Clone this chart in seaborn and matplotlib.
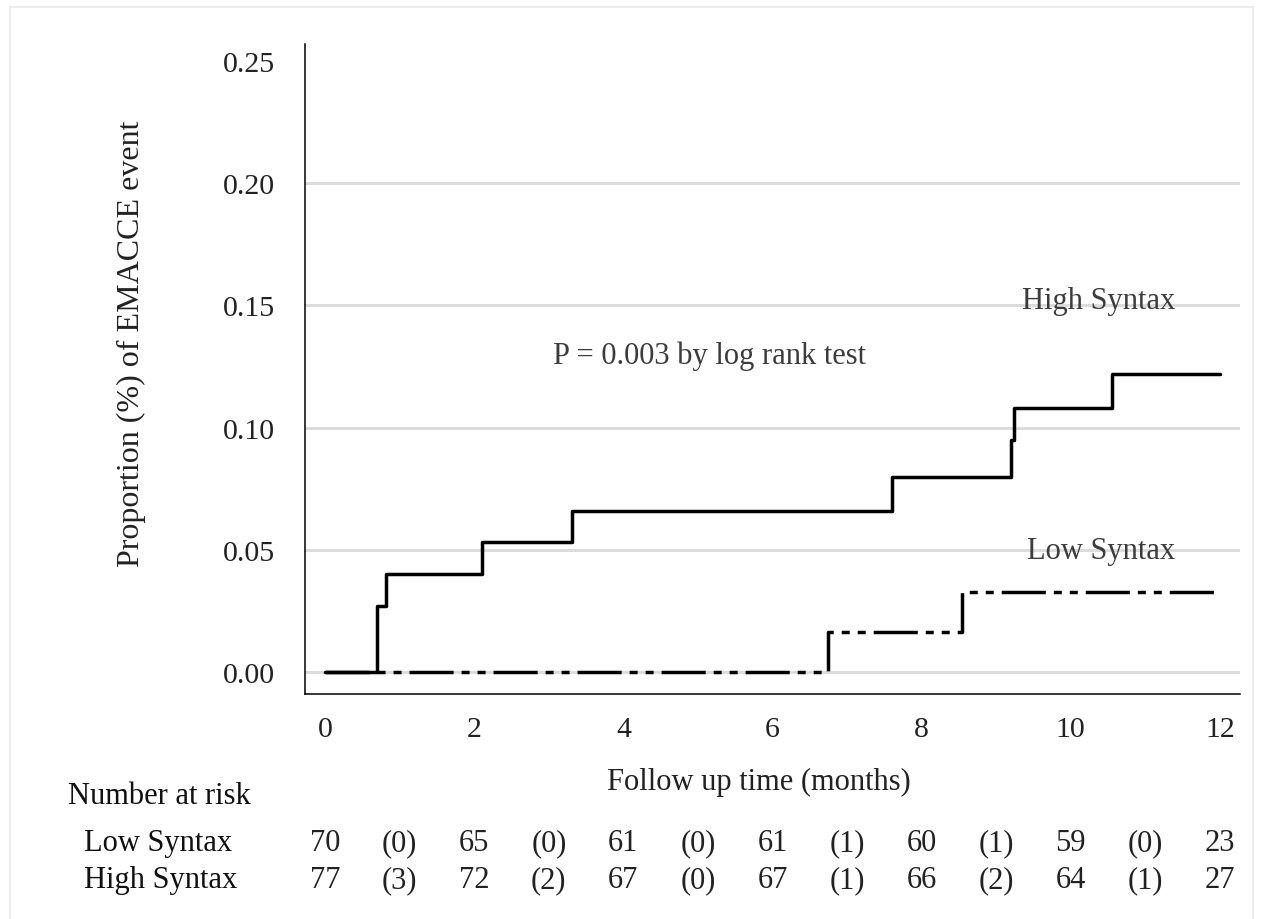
"""
Courbe de Kaplan-Meier (incidence cumulée) des événements EMACCE selon le score Syntax.
"""

import pandas as pd
import matplotlib
matplotlib.use("Agg")
import matplotlib.pyplot as plt
import matplotlib.transforms as mtransforms
from matplotlib.patches import Rectangle
import seaborn as sns

# Données
high_time = [0, 0.70, 0.82, 2.10, 3.31, 7.60, 9.20, 9.24, 10.55, 12.0]
high_prop = [0, 0.027, 0.040, 0.053, 0.066, 0.080, 0.095, 0.108, 0.122, 0.122]
low_time = [0, 6.75, 8.54, 12.0]
low_prop = [0, 0.0164, 0.0328, 0.0328]

groups = ["High Syntax", "Low Syntax"]
y_ticks = [0.00, 0.05, 0.10, 0.15, 0.20, 0.25]
x_ticks = [0, 2, 4, 6, 8, 10, 12]

risk_months = [0, 2, 4, 6, 8, 10, 12]
event_months = [1, 3, 5, 7, 9, 11]
low_at_risk = [70, 65, 61, 61, 60, 59, 23]
low_events = [0, 0, 0, 1, 1, 0]
high_at_risk = [77, 72, 67, 67, 66, 64, 27]
high_events = [3, 2, 0, 1, 2, 1]

df = pd.concat([
    pd.DataFrame({"time": high_time, "prop": high_prop, "group": groups[0]}),
    pd.DataFrame({"time": low_time, "prop": low_prop, "group": groups[1]}),
], ignore_index=True)

sns.set_theme(style="white")
plt.rcParams["font.family"] = ["Liberation Serif", "DejaVu Serif"]
plt.rcParams["font.size"] = 22

fig = plt.figure(figsize=(12.69, 9.2), dpi=100)
ax = fig.add_axes([305 / 1269, 1 - 695 / 920, 935 / 1269, 650 / 920])

# bordure claire autour de l'image
fig.patches.append(Rectangle((10 / 1269, -0.02), 1243 / 1269, 1.02 - 8 / 920,
                             transform=fig.transFigure, fill=False,
                             edgecolor="#ececec", linewidth=1.5))

# lignes de grille horizontales (sauf 0.25)
for yv in y_ticks[:-1]:
    ax.axhline(yv, color="#dcdcdc", linewidth=2.2, zorder=0)

lw = 2.5
sns.lineplot(data=df, x="time", y="prop", hue="group", style="group",
             hue_order=groups, style_order=groups,
             palette={g: "black" for g in groups},
             dashes={groups[0]: "", groups[1]: (12.7, 2.3, 2.3, 2.3, 2.3, 2.3)},
             drawstyle="steps-post", estimator=None, sort=False,
             linewidth=lw, legend=False, ax=ax, zorder=3)

ax.set_xlim(-0.27, 12.27)
ax.set_ylim(-0.009, 0.257)
ax.set_xticks(x_ticks)
ax.set_xticklabels([str(v) for v in x_ticks])
ax.set_yticks(y_ticks)
ax.set_yticklabels([f"{v:.2f}" for v in y_ticks])

for side in ["top", "right"]:
    ax.spines[side].set_visible(False)
for side in ["left", "bottom"]:
    ax.spines[side].set_color("black")
    ax.spines[side].set_linewidth(1.1)

ax.tick_params(axis="both", direction="out", length=8.6, width=1.1,
               color="black", labelcolor="#222222", labelsize=21.5)
ax.tick_params(axis="y", pad=13)
ax.tick_params(axis="x", pad=7)

ax.set_xlabel("Follow up time (months)", fontsize=22, color="#222222")
ax.xaxis.set_label_coords(0.485, -0.112)
ax.set_ylabel("Proportion (%) of EMACCE event", fontsize=23, color="#222222")
ax.yaxis.set_label_coords(-0.170, 0.54)

# annotations
ax.text(3.06, 0.1295, "P = 0.003 by log rank test", fontsize=22,
        color="#3c3c3c", va="center", ha="left")
ax.text(9.34, 0.152, "High Syntax", fontsize=22, color="#3c3c3c",
        va="center", ha="left")
ax.text(9.41, 0.0496, "Low Syntax", fontsize=22, color="#3c3c3c",
        va="center", ha="left")

# tableau du nombre de sujets à risque
trans = mtransforms.blended_transform_factory(ax.transData, fig.transFigure)
fig.text(68 / 1269, 1 - 797 / 920, "Number at risk", fontsize=22,
         color="#111111", va="center", ha="left")
rows = [
    (groups[1], low_at_risk, low_events, 1 - 844 / 920),
    (groups[0], high_at_risk, high_events, 1 - 881 / 920),
]
for name, at_risk, events, yfig in rows:
    fig.text(84 / 1269, yfig, name, fontsize=22, color="#111111",
             va="center", ha="left")
    for m, n in zip(risk_months, at_risk):
        ax.text(m, yfig, str(n), transform=trans, fontsize=22,
                color="#222222", va="center", ha="center")
    for m, e in zip(event_months, events):
        ax.text(m, yfig, f"({e})", transform=trans, fontsize=22,
                color="#222222", va="center", ha="center")

fig.savefig("out.png", dpi=100)
plt.close(fig)
